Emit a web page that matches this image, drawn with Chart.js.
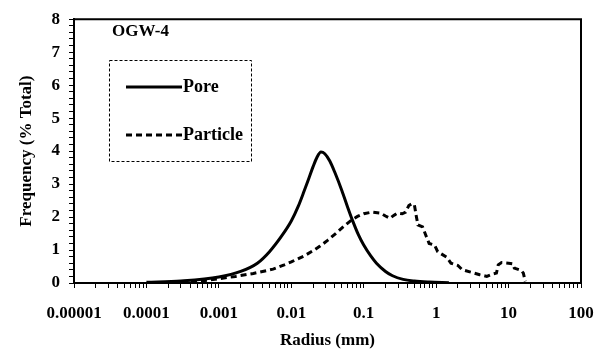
<!DOCTYPE html>
<html>
<head>
<meta charset="utf-8">
<script src="https://cdn.jsdelivr.net/npm/chart.js@4.4.1/dist/chart.umd.min.js"></script>
<style>
    body { margin: 0; background: #fff; }
    #wrap { width: 612px; height: 354px; position: relative; }
</style>
</head>
<body>
<div id="wrap"><canvas id="chart"></canvas></div>
<script>
    'use strict';

    // pore size distribution (radius in mm, frequency in % of total)
    var poreRadius = [0.0001, 0.0003, 0.001, 0.002, 0.0034, 0.005, 0.0075, 0.01, 0.0125, 0.015, 0.0175, 0.02, 0.0225, 0.0257,
        0.029, 0.034, 0.04, 0.05, 0.06, 0.07, 0.085, 0.1, 0.125, 0.15, 0.2, 0.25, 0.35, 0.5, 0.8, 1.5];
    var poreFreq = [0.02, 0.06, 0.18, 0.35, 0.6, 0.95, 1.45, 1.88, 2.33, 2.78, 3.18, 3.53, 3.8, 3.97,
        3.92, 3.7, 3.35, 2.8, 2.3, 1.9, 1.45, 1.15, 0.82, 0.6, 0.35, 0.22, 0.11, 0.06, 0.03, 0.01];

    // particle size distribution
    var particleRadius = [0.0003, 0.0006, 0.001, 0.0017, 0.003, 0.0056, 0.008, 0.01, 0.015, 0.02, 0.025, 0.032, 0.041, 0.052, 0.067,
        0.082, 0.1, 0.13, 0.17, 0.2, 0.23, 0.26, 0.29, 0.34, 0.38, 0.42, 0.46, 0.5, 0.53, 0.56, 0.65, 0.72, 0.8, 0.95, 1.05,
        1.4, 1.6, 2.0, 2.3, 3.0, 4.0, 5.0, 6.0, 6.8, 7.2, 8.0, 10, 11.5, 12, 15, 16, 17];
    var particleFreq = [0.03, 0.07, 0.13, 0.2, 0.29, 0.42, 0.55, 0.64, 0.82, 0.98, 1.12, 1.3, 1.5, 1.7, 1.9,
        2.02, 2.1, 2.15, 2.12, 2.03, 1.96, 2.05, 2.12, 2.1, 2.15, 2.35, 2.4, 2.38, 2.05, 1.76, 1.7, 1.45, 1.2, 1.15, 0.95,
        0.78, 0.6, 0.53, 0.4, 0.33, 0.25, 0.2, 0.27, 0.3, 0.55, 0.62, 0.6, 0.58, 0.45, 0.38, 0.3, 0.05];

    var xTickLabels = ['0.00001', '0.0001', '0.001', '0.01', '0.1', '1', '10', '100'];
    var yTickLabels = ['0', '1', '2', '3', '4', '5', '6', '7', '8'];
    var sampleName = 'OGW-4';

    var serif = '"Liberation Serif", "Times New Roman", serif';

    var toPoints = function (xs, ys) {
        var pts = [];
        for (var i = 0; i < xs.length; i++) {
            pts.push({ x: xs[i], y: ys[i] });
        }
        return pts;
    };

    // outline the whole plot area, like the old spreadsheet chart
    var frame = {
        id: 'frame',
        afterDraw: function (chart) {
            var a = chart.chartArea, ctx = chart.ctx;
            ctx.save();
            ctx.strokeStyle = '#000';
            ctx.lineWidth = 2;
            ctx.beginPath();
            ctx.moveTo(a.left, a.top);
            ctx.lineTo(a.right, a.top);
            ctx.lineTo(a.right, a.bottom);
            ctx.stroke();
            ctx.restore();
        }
    };

    // sample label and the dashed legend box inside the plot
    var innerLegend = {
        id: 'innerLegend',
        afterDraw: function (chart) {
            var ctx = chart.ctx;
            ctx.save();
            ctx.fillStyle = '#000';
            ctx.font = 'bold 17px ' + serif;
            ctx.textBaseline = 'middle';
            ctx.fillText(sampleName, 112, 32);

            ctx.strokeStyle = '#000';
            ctx.lineWidth = 1;
            ctx.setLineDash([3, 2]);
            ctx.strokeRect(109.5, 60.5, 142, 101);

            var rows = [87, 135];
            chart.data.datasets.forEach(function (ds, i) {
                ctx.beginPath();
                ctx.lineWidth = 3;
                ctx.setLineDash(ds.borderDash || []);
                ctx.moveTo(126, rows[i]);
                ctx.lineTo(182, rows[i]);
                ctx.stroke();
                ctx.font = 'bold 18px ' + serif;
                ctx.fillText(ds.label, 183, rows[i]);
            });
            ctx.restore();
        }
    };

    var ctx = document.getElementById('chart').getContext('2d');

    new Chart(ctx, {
        type: 'line',
        data: {
            datasets: [
                {
                    label: 'Pore',
                    data: toPoints(poreRadius, poreFreq),
                    borderColor: '#000',
                    borderWidth: 3,
                    pointRadius: 0,
                    cubicInterpolationMode: 'monotone',
                    fill: false
                },
                {
                    label: 'Particle',
                    data: toPoints(particleRadius, particleFreq),
                    borderColor: '#000',
                    borderWidth: 3,
                    borderDash: [6, 4],
                    pointRadius: 0,
                    tension: 0,
                    fill: false
                }
            ]
        },
        options: {
            responsive: true,
            maintainAspectRatio: false,
            animation: false,
            layout: { padding: { left: 0, right: 31, top: 10, bottom: 0 } },
            plugins: {
                legend: { display: false },
                tooltip: { enabled: false }
            },
            scales: {
                x: {
                    type: 'logarithmic',
                    position: 'bottom',
                    min: 0.00001,
                    max: 100,
                    afterBuildTicks: function (scale) {
                        var t = [];
                        for (var e = -5; e < 2; e++) {
                            for (var m = 1; m < 10; m++) {
                                t.push({ value: m * Math.pow(10, e) });
                            }
                        }
                        t.push({ value: 100 });
                        scale.ticks = t;
                    },
                    afterFit: function (scale) { scale.height = 71; },
                    ticks: {
                        autoSkip: false,
                        maxRotation: 0,
                        minRotation: 0,
                        padding: 15,
                        color: '#000',
                        font: { family: serif, size: 17, weight: 'bold' },
                        callback: function (v) {
                            var e = Math.log10(v);
                            if (Math.abs(e - Math.round(e)) < 1e-9) {
                                return xTickLabels[Math.round(e) + 5];
                            }
                            return '';
                        }
                    },
                    grid: { drawOnChartArea: false, drawTicks: true, tickLength: 5, color: '#000', lineWidth: 1 },
                    border: { display: true, color: '#000', width: 2 },
                    title: {
                        display: true,
                        text: 'Radius (mm)',
                        color: '#000',
                        font: { family: serif, size: 17, weight: 'bold' },
                        padding: { top: 0, bottom: 3 }
                    }
                },
                y: {
                    min: 0,
                    max: 8,
                    afterBuildTicks: function (scale) {
                        var t = [];
                        for (var i = 0; i <= 40; i++) {
                            t.push({ value: i / 5 });
                        }
                        scale.ticks = t;
                    },
                    afterFit: function (scale) { scale.width = 74; },
                    ticks: {
                        autoSkip: false,
                        padding: 9,
                        color: '#000',
                        font: { family: serif, size: 17, weight: 'bold' },
                        callback: function (v) {
                            var k = Math.round(v);
                            return Math.abs(v - k) < 1e-9 ? yTickLabels[k] : '';
                        }
                    },
                    grid: { drawOnChartArea: false, drawTicks: true, tickLength: 5, color: '#000', lineWidth: 1 },
                    border: { display: true, color: '#000', width: 2 },
                    title: {
                        display: true,
                        text: 'Frequency (% Total)',
                        color: '#000',
                        font: { family: serif, size: 17, weight: 'bold' },
                        padding: { top: 16, bottom: 0 }
                    }
                }
            }
        },
        plugins: [frame, innerLegend]
    });
</script>
</body>
</html>
